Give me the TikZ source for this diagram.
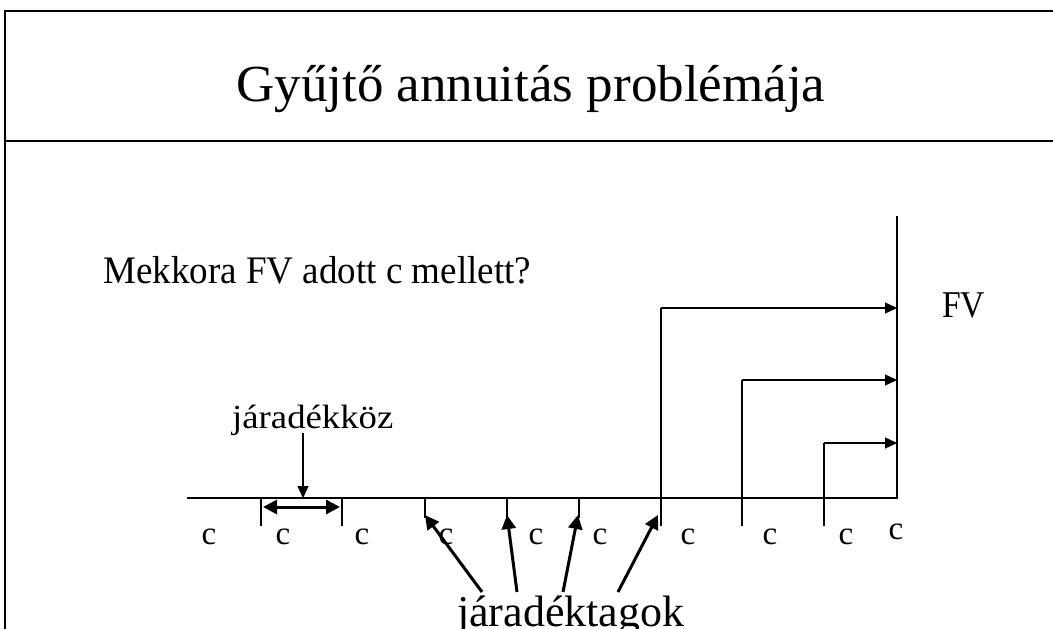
\documentclass[tikz,border=0pt]{standalone}
\usepackage{fontspec}
\setmainfont{Liberation Serif}
\usetikzlibrary{arrows.meta}
\newcommand{\fsz}[1]{\fontsize{#1}{#1}\selectfont}
\begin{document}
\begin{tikzpicture}[x=1pt,y=-1pt,
  thinline/.style={line width=1.3pt},
  thinarrow/.style={line width=1.3pt,-{Triangle[length=12pt,width=11pt]}},
  thickarrow/.style={line width=3pt,-{Triangle[length=14pt,width=14pt]}},
  txt/.style={inner sep=0pt},
  clab/.style={inner sep=0pt,anchor=base,font=\fsz{33}}]
\useasboundingbox (0,0) rectangle (1053,629);
\clip (0,0) rectangle (1053,629);
% frame
\coordinate (tl) at (5,11);
\coordinate (bl) at (5,629);
\coordinate (tr) at (1053,11);
\coordinate (sl) at (5,141);
\coordinate (sr) at (1053,141);
\draw[line width=2pt] (bl) -- (tl) -- (tr);
\draw[line width=1.3pt] (sl) -- (sr);
% title
\node[txt,anchor=base west,font=\fsz{52}] (title) at (236,101) {\scalebox{1.02}[1]{Gyűjtő annuitás problémája}};
\node[txt,anchor=base west,font=\fsz{39}] (q) at (103,283) {\scalebox{0.95}[1]{Mekkora FV adott c mellett?}};
\node[txt,anchor=base west,font=\fsz{37.8}] (fv) at (942,317) {\scalebox{0.89}[1]{FV}};
% axes
\coordinate (a0) at (187,498);
\coordinate (a1) at (897,498);
\coordinate (vt) at (897,216);
\draw[thinline] (a0) -- (a1) -- (vt);
% ticks
\foreach \x/\b in {261/526,342/526,425/518,507/518,579/518,661/526,742/526,824/526}{
  \coordinate (t\x) at (\x,498);
  \coordinate (tb\x) at (\x,\b);
  \draw[thinline] (t\x) -- (tb\x);
}
% brackets to FV
\coordinate (u1) at (661,308); \coordinate (f1) at (897,308);
\coordinate (u2) at (742,380); \coordinate (f2) at (897,380);
\coordinate (u3) at (824,443); \coordinate (f3) at (897,443);
\draw[thinline] (t661) -- (u1);
\draw[thinline] (t742) -- (u2);
\draw[thinline] (t824) -- (u3);
\draw[thinarrow] (u1) -- (f1);
\draw[thinarrow] (u2) -- (f2);
\draw[thinarrow] (u3) -- (f3);
% c labels
\foreach \x [count=\i] in {209,283,362,446,536,600,688,770,846}{
  \node[clab] (c\i) at (\x,544) {c};
}
\node[clab] (c10) at (896,539) {c};
% jaradekkoz
\node[txt,anchor=base west,font=\fsz{33.7}] (jk) at (232,428) {\scalebox{1.09}[1]{járadékköz}};
\coordinate (jkb) at (303,433);
\coordinate (jkt) at (303,498);
\draw[thinarrow] (jkb) -- (jkt);
\coordinate (d0) at (263,507);
\coordinate (d1) at (340,507);
\draw[line width=3pt,{Triangle[length=14pt,width=14pt]}-{Triangle[length=14pt,width=14pt]}] (d0) -- (d1);
% jaradektagok
\node[txt,anchor=base west,font=\fsz{44}] (jt) at (457,626) {járadéktagok};
\coordinate (s1) at (482,592); \coordinate (e1) at (425,515);
\coordinate (s2) at (517,592); \coordinate (e2) at (507,515);
\coordinate (s3) at (563,592); \coordinate (e3) at (578,515);
\coordinate (s4) at (618,592); \coordinate (e4) at (658,515);
\foreach \k in {1,2,3,4}{\draw[thickarrow] (s\k) -- (e\k);}
\end{tikzpicture}
\end{document}
